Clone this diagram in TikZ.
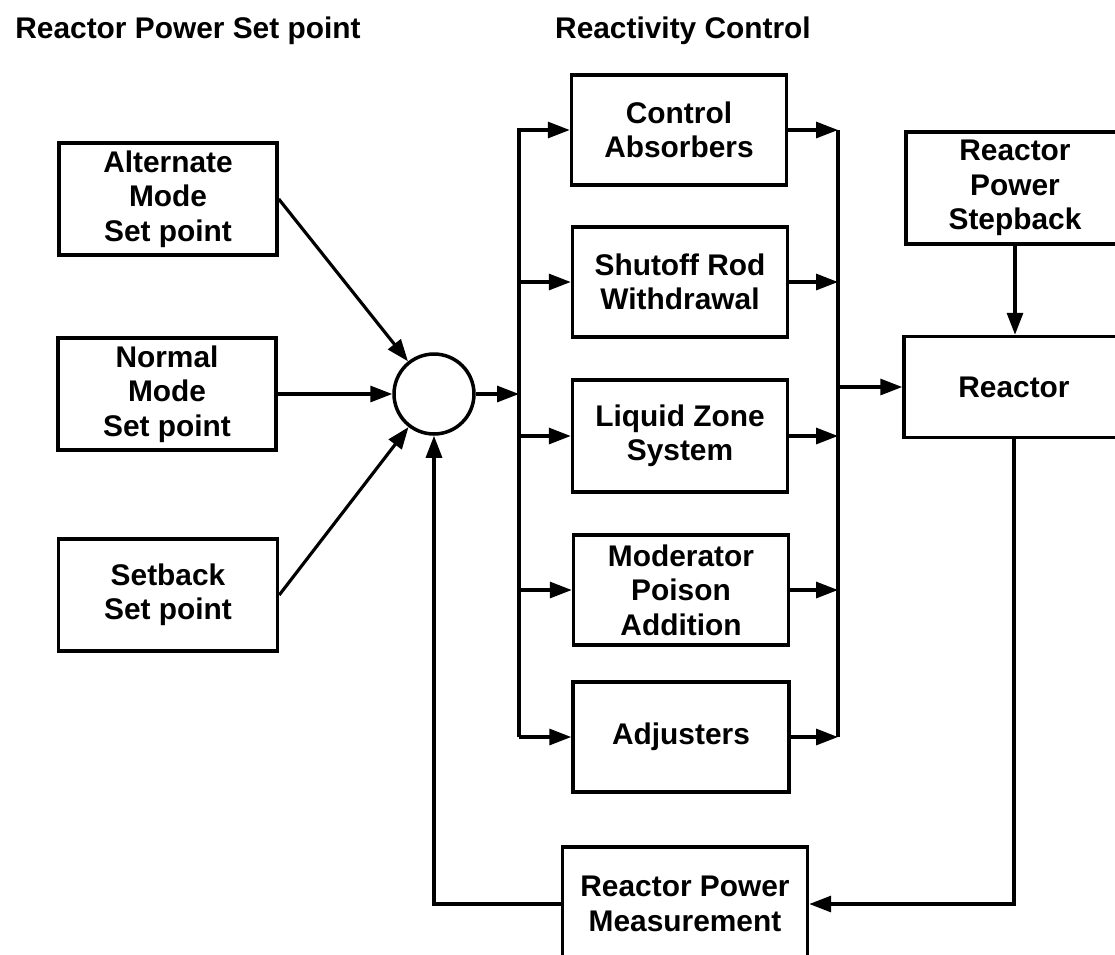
\documentclass[tikz,border=0pt]{standalone}
\usepackage{fontspec}
\setmainfont{Liberation Sans}
\usetikzlibrary{calc,positioning,arrows.meta}

\tikzset{
    block/.style={draw,line width=2pt,align=center,inner sep=0pt,
        minimum width=4.3cm,minimum height=2.2cm,
        font=\bfseries\fontsize{17}{19.6}\selectfont},
    title/.style={font=\bfseries\fontsize{17}{19.6}\selectfont},
    wire/.style={line width=1.8pt},
    flow/.style={wire,-{Triangle[length=4.4mm,width=3.2mm]}},
}

\begin{document}
\begin{tikzpicture}[x=0.02cm,y=-0.02cm]
\clip (0,0) rectangle (1115,954);

\node[title] (tSetPt) at (188,31) {Reactor Power Set point};
\node[title] (tReact) at (683,31) {Reactivity Control};

\node[block,minimum width=4.36cm,minimum height=2.24cm] (alt) at (168,199) {Alternate\\Mode\\Set point};
\node[block,minimum width=4.36cm,minimum height=2.24cm] (normal) at (167,394) {Normal\\Mode\\Set point};
\node[block,minimum width=4.38cm,minimum height=2.24cm] (setback) at (168,595) {Setback\\Set point};

\node[draw,circle,line width=2pt,minimum size=1.6cm,inner sep=0pt] (sum) at (434,394) {};

\node[block] (ctrl) at (679,130) {Control\\Absorbers};
\node[block] (shut) at (680,282) {Shutoff Rod\\Withdrawal};
\node[block,minimum height=2.24cm] (liquid) at (680,436) {Liquid Zone\\System};
\node[block] (moder) at (681,590) {Moderator\\Poison\\Addition};
\node[block,minimum width=4.32cm] (adjust) at (681,737) {Adjusters};

\node[block,minimum width=4.36cm,minimum height=2.24cm] (stepback) at (1015,188) {Reactor\\Power\\Stepback};
\node[block,minimum width=4.4cm,minimum height=2.02cm] (reactor) at (1014,387) {Reactor};
\node[block,minimum width=4.9cm,minimum height=2.28cm] (meas) at (685,904) {Reactor Power\\Measurement};

\coordinate (cBusL) at (519,394);
\coordinate (cBusR) at (838,388);

% set points into the summing point
\draw[flow] (alt.east) -- (sum);
\draw[flow] (normal.east) -- (sum.west);
\draw[flow] (setback.east) -- (sum);
\draw[flow] (sum.east) -- (cBusL);

% distribution to the reactivity devices
\draw[flow] (cBusL |- adjust.west) -- (cBusL |- ctrl.west) -- (ctrl.west);
\foreach \dev in {shut,liquid,moder,adjust}
    \draw[flow] (cBusL |- \dev.west) -- (\dev.west);

\draw[wire] (cBusR |- ctrl.east) -- (cBusR |- adjust.east);
\foreach \dev in {ctrl,shut,liquid,moder,adjust}
    \draw[flow] (\dev.east) -- (cBusR |- \dev.east);
\draw[flow] (cBusR |- reactor.west) -- (reactor.west);

\draw[flow] (stepback.south) -- (stepback.south |- reactor.north);

% feedback loop
\draw[flow] (reactor.south) |- (meas.east);
\draw[flow] (meas.west) -| (sum.south);
\end{tikzpicture}
\end{document}
